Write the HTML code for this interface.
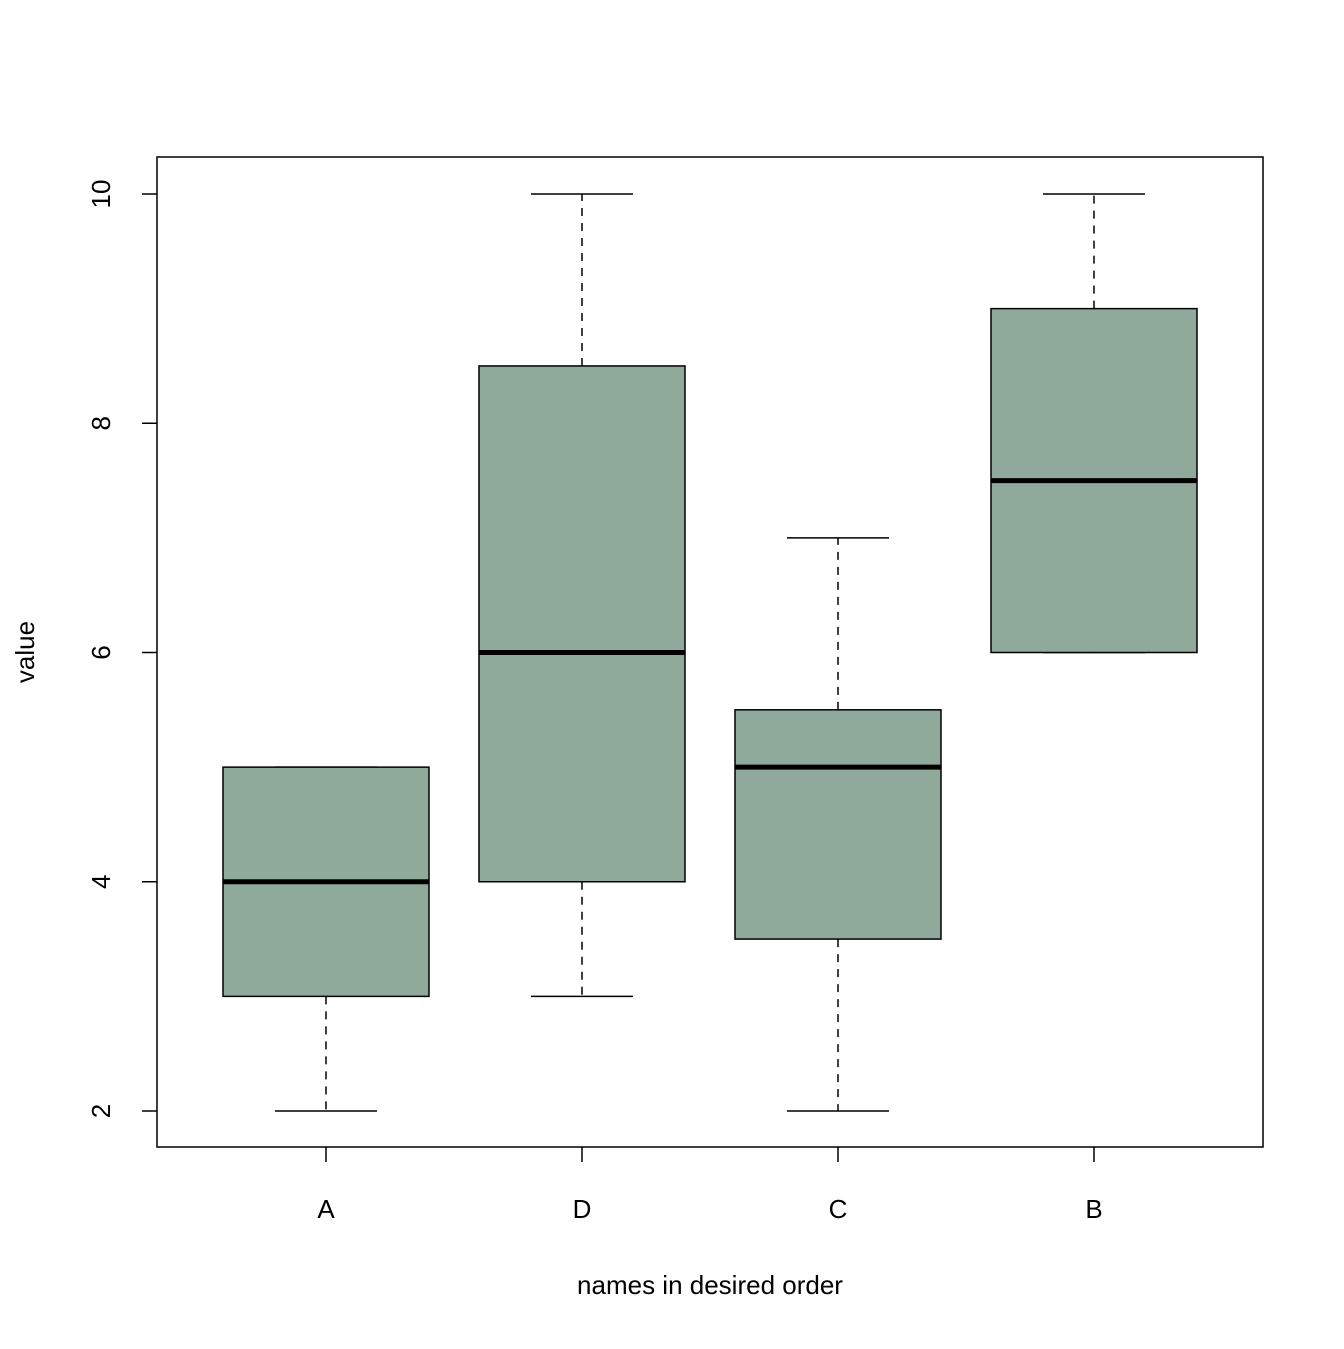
<!DOCTYPE html>
<html><head><meta charset="utf-8"><style>
body{margin:0;background:#fff}
svg text{font-family:"Liberation Sans",Arial,sans-serif;font-size:26px;fill:#000}
</style></head><body>
<svg id="chart" width="1344" height="1344" viewBox="0 0 1344 1344" xmlns="http://www.w3.org/2000/svg">
<rect x="157" y="157" width="1106" height="990" fill="none" stroke="#000" stroke-width="1.5"/>
<g id="marks"></g>
<g id="axes"></g>
<text transform="translate(34,652) rotate(-90)" text-anchor="middle">value</text>
<text x="710" y="1294" text-anchor="middle">names in desired order</text>
</svg>
<script>
const categories = ["A","D","C","B"];
const mins = [2,3,2,6];
const q1s = [3,4,3.5,6];
const medians = [4,6,5,7.5];
const q3s = [5,8.5,5.5,9];
const maxs = [5,10,7,10];
const yTicks = [2,4,6,8,10];

const NS="http://www.w3.org/2000/svg";
function y(v){return 1111-(v-2)*(1111-194)/8;}
function x(i){return 326+i*256;}
function mk(tag,attrs,parent){const e=document.createElementNS(NS,tag);for(const k in attrs)e.setAttribute(k,attrs[k]);parent.appendChild(e);return e;}
const marks=document.getElementById('marks'), axes=document.getElementById('axes');
const bw=103, cw=51;
categories.forEach((c,i)=>{
  const cx=x(i);
  const g=mk('g',{},marks);
  
  
  const w1=mk('line',{x1:cx,x2:cx,y1:y(q3s[i]),y2:y(maxs[i]),stroke:'#000','stroke-width':1.5,'stroke-dasharray':'8,7'},g);
  
  
  const w2=mk('line',{x1:cx,x2:cx,y1:y(q1s[i]),y2:y(mins[i]),stroke:'#000','stroke-width':1.5,'stroke-dasharray':'8,7'},g);
  
  
  const c1=mk('line',{x1:cx-cw,x2:cx+cw,y1:y(maxs[i]),y2:y(maxs[i]),stroke:'#000','stroke-width':1.5},g);
  
  
  const c2=mk('line',{x1:cx-cw,x2:cx+cw,y1:y(mins[i]),y2:y(mins[i]),stroke:'#000','stroke-width':1.5},g);
  
  
  const r=mk('rect',{x:cx-bw,y:y(q3s[i]),width:2*bw,height:y(q1s[i])-y(q3s[i]),fill:'#8FA99A',stroke:'#000','stroke-width':1.5},g);
  
  
  const m=mk('line',{x1:cx-bw,x2:cx+bw,y1:y(medians[i]),y2:y(medians[i]),stroke:'#000','stroke-width':5},g);
  
  
  const t=mk('line',{x1:cx,x2:cx,y1:1147,y2:1162,stroke:'#000','stroke-width':1.5},axes);
  
  
  const l=mk('text',{x:cx,y:1218,'text-anchor':'middle'},axes);
  l.textContent=c;
  
  
});
yTicks.forEach(v=>{
  const t=mk('line',{x1:142,x2:157,y1:y(v),y2:y(v),stroke:'#000','stroke-width':1.5},axes);
  
  
  const l=mk('text',{transform:`translate(110,${y(v)}) rotate(-90)`,'text-anchor':'middle'},axes);
  l.textContent=v;
  
  
});
</script>
</body></html>
